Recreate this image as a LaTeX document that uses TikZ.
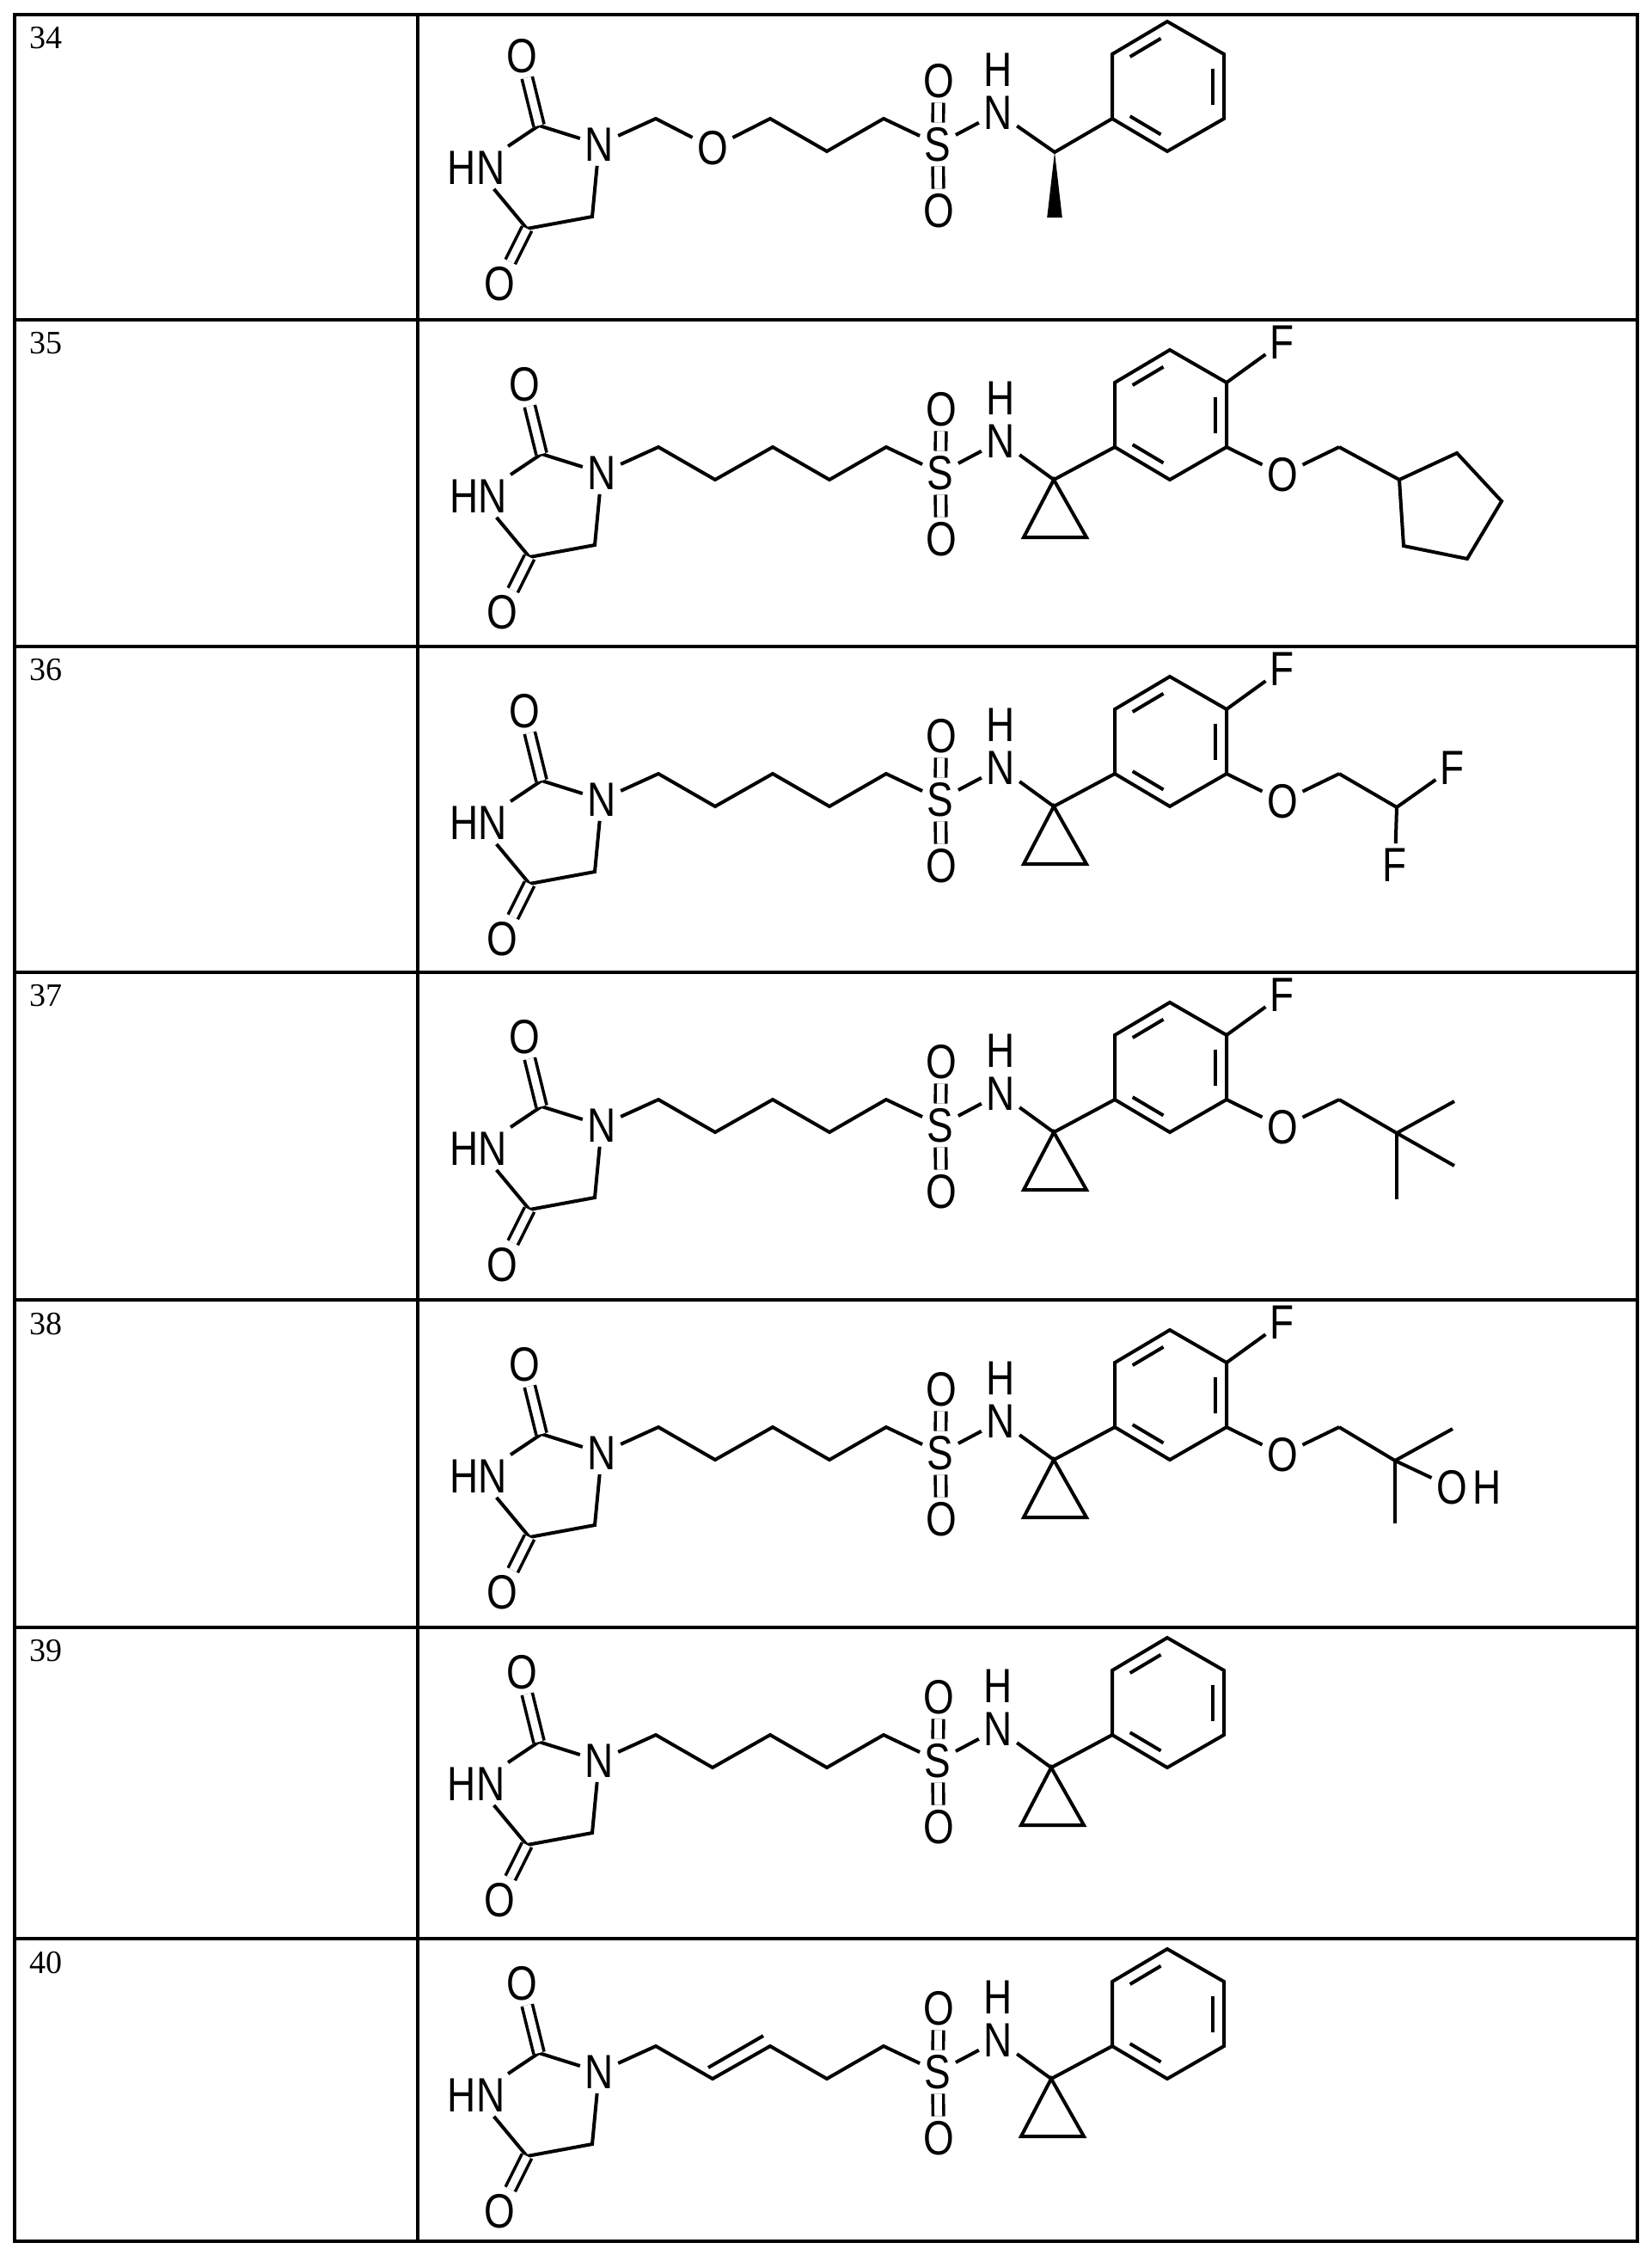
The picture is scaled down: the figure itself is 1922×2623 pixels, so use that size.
\documentclass[tikz,border=0pt]{standalone}
\usepackage{fontspec}
\setmainfont{Liberation Sans}
\newfontfamily\numfont{Liberation Serif}
\newfontfamily\atomfont[FakeStretch=0.82]{Liberation Sans}
\usetikzlibrary{calc}
\tikzset{
  bond/.style={line width=1pt},
  dbl/.style={double, double distance=2.2pt, line width=0.9pt},
  atom/.style={font=\atomfont\fontsize{14}{14}\selectfont, inner sep=1.2pt},
  hatom/.style={font=\atomfont\fontsize{14}{14}\selectfont, inner sep=0pt, text height=10pt, text depth=0pt},
  rule/.style={line width=0.9pt},
  num/.style={font=\numfont\fontsize{9.5}{9.5}\selectfont, anchor=north west, inner sep=0pt}
}
\newcommand\innerb[3]{\draw[bond] ($(#1)!0.15!(#2)!0.2!(#3)$) -- ($(#2)!0.15!(#1)!0.2!(#3)$);}
\newcommand\hyd{
  \node[atom] (n1) at (0,0) {N};
  \node[atom] (n3) at (-143,27) {HN};
  \coordinate (c2) at (-70,-22);
  \node[atom] (o2) at (-90,-103) {O};
  \coordinate (c4) at (-84,98);
  \coordinate (c5) at (-8,84);
  \node[atom] (o4) at (-116,162) {O};
  \draw[bond] (n1) -- (c2) -- (n3);
  \draw[bond] (n3) -- (c4) -- (c5) -- (n1);
  \draw[dbl] (c2) -- (o2);
  \draw[dbl] (c4) -- (o4);
}
\newcommand\sulf{
  \node[atom] (s) at (394,0) {S};
  \node[atom] (os1) at (395,-74) {O};
  \node[atom] (os2) at (395,77) {O};
  \draw[dbl] (s) -- (os1);
  \draw[dbl] (s) -- (os2);
  \node[atom] (nh) at (464,-37) {N};
  \node[hatom] (hh) at (464,-88) {H};
  \draw[bond] (s) -- (nh);
}
\newcommand\chainA{
  \coordinate (k1) at (66,-30); \coordinate (k2) at (132,8);
  \coordinate (k3) at (199,-30); \coordinate (k4) at (265,8);
  \coordinate (k5) at (331,-30);
}
\newcommand\phen{
  \coordinate (p1) at (597,-30); \coordinate (p2) at (597,-105);
  \coordinate (p3) at (661,-143); \coordinate (p4) at (727,-105);
  \coordinate (p5) at (727,-30); \coordinate (p6) at (661,8);
  \coordinate (pc) at (662,-67);
  \draw[bond] (p1) -- (p2) -- (p3) -- (p4) -- (p5) -- (p6) -- cycle;
  \innerb{p2}{p3}{pc}\innerb{p4}{p5}{pc}\innerb{p6}{p1}{pc}
}
\newcommand\cprop{
  \coordinate (q) at (526,8); \coordinate (q1) at (491,75); \coordinate (q2) at (564,75);
  \draw[bond] (nh) -- (q);
  \draw[bond] (q) -- (q1) -- (q2) -- cycle;
  \draw[bond] (q) -- (p1);
}
\newcommand\fo{
  \node[atom] (ff) at (792,-152) {F};
  \node[atom] (oo) at (792,2) {O};
  \coordinate (m) at (858,-30);
  \draw[bond] (p4) -- (ff);
  \draw[bond] (p5) -- (oo) -- (m);
}
\begin{document}
\begin{tikzpicture}[x=0.25pt,y=-0.25pt]
\useasboundingbox (0,0) rectangle (1922,2623);
\fill[white] (0,0) rectangle (1922,2623);
% table
\draw[rule] (17,17) rectangle (1905,2607);
\draw[rule] (486,17) -- (486,2607);
\foreach \yy in {372,752,1131,1512,1893,2255} \draw[rule] (17,\yy) -- (1905,\yy);
\foreach \t/\yy in {34/17,35/372,36/752,37/1131,38/1512,39/1893,40/2255}
  \node[num] (lab\t) at (34,\yy+14) {\t};
% row 34
\begin{scope}[shift={(697,168)}]
  \hyd \sulf \phen
  \coordinate (k1) at (66,-30); \node[atom] (ox) at (132,4) {O};
  \coordinate (k3) at (199,-30); \coordinate (k4) at (265,8); \coordinate (k5) at (331,-30);
  \draw[bond] (n1) -- (k1) -- (ox) -- (k3) -- (k4) -- (k5) -- (s);
  \coordinate (ch) at (530,9); \coordinate (me) at (530,85);
  \draw[bond] (nh) -- (ch) -- (p1);
  \fill (ch) -- ([xshift=-2.2pt]me) -- ([xshift=2.2pt]me) -- cycle;
\end{scope}
% row 35
\begin{scope}[shift={(700,550)}]
  \hyd \chainA \sulf \phen \cprop \fo
  \draw[bond] (n1) -- (k1) -- (k2) -- (k3) -- (k4) -- (k5) -- (s);
  \coordinate (r0) at (928,8); \coordinate (r1) at (995,-23); \coordinate (r2) at (1047,33);
  \coordinate (r3) at (1007,100); \coordinate (r4) at (933,85);
  \draw[bond] (m) -- (r0);
  \draw[bond] (r0) -- (r1) -- (r2) -- (r3) -- (r4) -- cycle;
\end{scope}
% row 36
\begin{scope}[shift={(700,930)}]
  \hyd \chainA \sulf \phen \cprop \fo
  \draw[bond] (n1) -- (k1) -- (k2) -- (k3) -- (k4) -- (k5) -- (s);
  \coordinate (cf) at (925,9);
  \node[atom] (f1) at (990,-37) {F};
  \node[atom] (f2) at (923,76) {F};
  \draw[bond] (m) -- (cf) -- (f1);
  \draw[bond] (cf) -- (f2);
\end{scope}
% row 37
\begin{scope}[shift={(700,1309)}]
  \hyd \chainA \sulf \phen \cprop \fo
  \draw[bond] (n1) -- (k1) -- (k2) -- (k3) -- (k4) -- (k5) -- (s);
  \coordinate (cq) at (925,9);
  \coordinate (t1) at (992,-28); \coordinate (t2) at (992,47); \coordinate (t3) at (925,86);
  \draw[bond] (m) -- (cq) -- (t1);
  \draw[bond] (cq) -- (t2);
  \draw[bond] (cq) -- (t3);
\end{scope}
% row 38
\begin{scope}[shift={(700,1690)}]
  \hyd \chainA \sulf \phen \cprop \fo
  \draw[bond] (n1) -- (k1) -- (k2) -- (k3) -- (k4) -- (k5) -- (s);
  \coordinate (cq) at (923,9);
  \coordinate (t1) at (990,-28); \coordinate (t3) at (923,82);
  \node[atom] (oh) at (989,40) {O};
  \node[atom, anchor=west, inner sep=0pt] (hx) at (oh.east) {H};
  \draw[bond] (m) -- (cq) -- (t1);
  \draw[bond] (cq) -- (oh);
  \draw[bond] (cq) -- (t3);
\end{scope}
% row 39
\begin{scope}[shift={(697,2048)}]
  \hyd \chainA \sulf \phen \cprop
  \draw[bond] (n1) -- (k1) -- (k2) -- (k3) -- (k4) -- (k5) -- (s);
\end{scope}
% row 40
\begin{scope}[shift={(697,2410)}]
  \hyd \chainA \sulf \phen \cprop
  \draw[bond] (n1) -- (k1) -- (k2) -- (k3) -- (k4) -- (k5) -- (s);
  \coordinate (d1) at (127,-5); \coordinate (d2) at (191,-42);
  \draw[bond] (d1) -- (d2);
\end{scope}
\end{tikzpicture}
\end{document}
